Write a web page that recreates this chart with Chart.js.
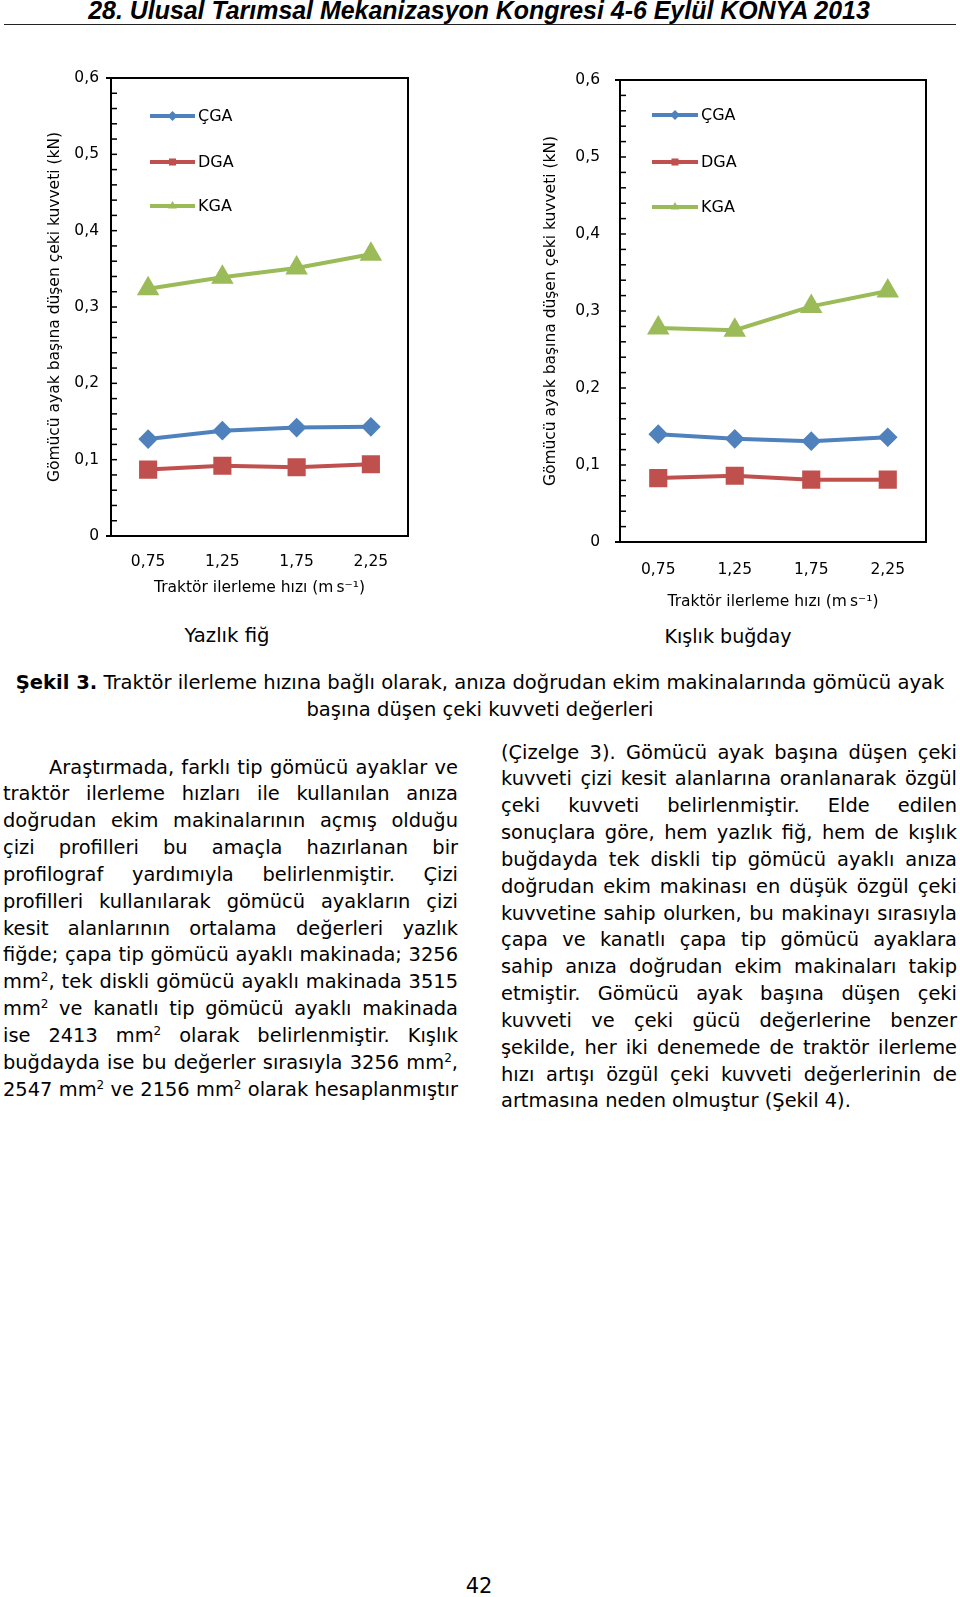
<!DOCTYPE html>
<html lang="tr">
<head>
<meta charset="utf-8">
<script src="https://cdn.jsdelivr.net/npm/chart.js@4.4.1/dist/chart.umd.min.js"></script>
<style>
  body { margin: 0; width: 960px; height: 1597px; position: relative; background: #fff; color: #000;
         font-family: "DejaVu Sans", sans-serif; overflow: hidden; }
  .abs { position: absolute; white-space: nowrap; line-height: 1.2; display: inline-block; }
  #header { font-family: "Liberation Sans Narrow", "Liberation Sans", sans-serif; font-weight: bold; font-style: italic; font-size: 24px; }
  #rule { position: absolute; left: 4px; top: 24px; width: 952px; border-top: 1.5px solid #222; }
  canvas { position: absolute; }
  .col { position: absolute; line-height: 26.85px; }
  .col div { white-space: nowrap; }
  sup { font-size: 0.62em; line-height: 0; vertical-align: 0.55em; }
</style>
</head>
<body>

<div id="header" class="abs">28. Ulusal Tarımsal Mekanizasyon Kongresi 4-6 Eylül KONYA 2013</div>
<div id="rule"></div>

<canvas id="yazlik" width="400" height="540" style="left:30px;top:60px;width:400px;height:540px"></canvas>
<canvas id="kislik" width="430" height="560" style="left:520px;top:60px;width:430px;height:560px"></canvas>

<div id="t1" class="abs">Yazlık fiğ</div>
<div id="t2" class="abs">Kışlık buğday</div>

<div id="cap1" class="abs"><b>Şekil 3.</b> Traktör ilerleme hızına bağlı olarak, anıza doğrudan ekim makinalarında gömücü ayak</div>
<div id="cap2" class="abs">başına düşen çeki kuvveti değerleri</div>

<div id="colL" class="col" style="left:3px;top:754.5px;width:455px">
  <div class="ind">Araştırmada, farklı tip gömücü ayaklar ve</div>
  <div>traktör ilerleme hızları ile kullanılan anıza</div>
  <div>doğrudan ekim makinalarının açmış olduğu</div>
  <div>çizi profilleri bu amaçla hazırlanan bir</div>
  <div>profilograf yardımıyla belirlenmiştir. Çizi</div>
  <div>profilleri kullanılarak gömücü ayakların çizi</div>
  <div>kesit alanlarının ortalama değerleri yazlık</div>
  <div>fiğde; çapa tip gömücü ayaklı makinada; 3256</div>
  <div>mm<sup>2</sup>, tek diskli gömücü ayaklı makinada 3515</div>
  <div>mm<sup>2</sup> ve kanatlı tip gömücü ayaklı makinada</div>
  <div>ise 2413 mm<sup>2</sup> olarak belirlenmiştir. Kışlık</div>
  <div>buğdayda ise bu değerler sırasıyla 3256 mm<sup>2</sup>,</div>
  <div>2547 mm<sup>2</sup> ve 2156 mm<sup>2</sup> olarak hesaplanmıştır</div>
</div>

<div id="colR" class="col" style="left:501px;top:739.5px;width:456px">
  <div>(Çizelge 3). Gömücü ayak başına düşen çeki</div>
  <div>kuvveti çizi kesit alanlarına oranlanarak özgül</div>
  <div>çeki kuvveti belirlenmiştir. Elde edilen</div>
  <div>sonuçlara göre, hem yazlık fiğ, hem de kışlık</div>
  <div>buğdayda tek diskli tip gömücü ayaklı anıza</div>
  <div>doğrudan ekim makinası en düşük özgül çeki</div>
  <div>kuvvetine sahip olurken, bu makinayı sırasıyla</div>
  <div>çapa ve kanatlı çapa tip gömücü ayaklara</div>
  <div>sahip anıza doğrudan ekim makinaları takip</div>
  <div>etmiştir. Gömücü ayak başına düşen çeki</div>
  <div>kuvveti ve çeki gücü değerlerine benzer</div>
  <div>şekilde, her iki denemede de traktör ilerleme</div>
  <div>hızı artışı özgül çeki kuvveti değerlerinin de</div>
  <div class="last">artmasına neden olmuştur (Şekil 4).</div>
</div>

<div id="pageno" class="abs" style="font-size:21px">42</div>

<script>
// traktör ilerleme hızı (m/s)
const speeds = ['0,75', '1,25', '1,75', '2,25'];
const names = ['ÇGA', 'DGA', 'KGA'];
const colors = ['#4F81BD', '#C0504D', '#9BBB59'];
const markers = ['rectRot', 'rect', 'triangle'];
const markerSize = [7, 10, 9];

// Yazlık fiğ (kN)
const vetchCGA = [0.127, 0.138, 0.142, 0.143];
const vetchDGA = [0.087, 0.092, 0.090, 0.094];
const vetchKGA = [0.324, 0.339, 0.351, 0.369];

// Kışlık buğday (kN)
const wheatCGA = [0.140, 0.134, 0.131, 0.136];
const wheatDGA = [0.083, 0.086, 0.081, 0.081];
const wheatKGA = [0.278, 0.275, 0.306, 0.326];

const yTitle = 'Gömücü ayak başına düşen çeki kuvveti (kN)';
const xTitle = 'Traktör ilerleme hızı (m\u2009s⁻¹)';
const chartFont = { family: 'DejaVu Sans', size: 15.5 };

// metin yerleşimi
function place(el, cx, cy, w) {
  if (w) {
    let fs = parseFloat(getComputedStyle(el).fontSize);
    el.style.fontSize = (fs * w / el.getBoundingClientRect().width) + 'px';
  }
  let r = el.getBoundingClientRect();
  el.style.left = (cx - r.width / 2) + 'px';
  el.style.top = (cy - r.height / 2) + 'px';
}

place(document.getElementById('header'), 479, 11, 782);
place(document.getElementById('t1'), 227, 636, 85);
place(document.getElementById('t2'), 728, 637, 127);

let cap1 = document.getElementById('cap1');
place(cap1, 480, 683, 929);
let cap2 = document.getElementById('cap2');
cap2.style.fontSize = cap1.style.fontSize;
place(cap2, 480, 710);
place(document.getElementById('pageno'), 479, 1587);

// iki yana yaslı satırlar
let last = document.querySelector('#colR .last');
let probe = document.createElement('span');
probe.style.whiteSpace = 'nowrap';
probe.style.fontSize = '20px';
probe.innerHTML = last.innerHTML;
document.body.appendChild(probe);
let bodySize = 20 * 350 / probe.getBoundingClientRect().width;
probe.remove();

['colL', 'colR'].forEach(function (id) {
  let col = document.getElementById(id);
  let colW = parseFloat(col.style.width);
  col.style.fontSize = bodySize + 'px';
  col.querySelectorAll('div').forEach(function (line) {
    if (line.classList.contains('last')) return;
    let indent = line.classList.contains('ind') ? 46 : 0;
    line.style.paddingLeft = indent + 'px';
    let s = document.createElement('span');
    s.innerHTML = line.innerHTML;
    line.innerHTML = '';
    line.appendChild(s);
    let natural = s.getBoundingClientRect().width;
    let spaces = s.textContent.split(' ').length - 1;
    if (spaces > 0) s.style.wordSpacing = ((colW - indent - natural) / spaces) + 'px';
  });
});

// işaretçi çizimi
function drawMarker(ctx, style, x, y, r) {
  ctx.beginPath();
  if (style === 'rectRot') {
    ctx.moveTo(x, y - r); ctx.lineTo(x + r, y); ctx.lineTo(x, y + r); ctx.lineTo(x - r, y);
  } else if (style === 'rect') {
    let s = r * Math.SQRT1_2;
    ctx.rect(x - s, y - s, 2 * s, 2 * s);
  } else {
    ctx.moveTo(x, y - r); ctx.lineTo(x + r * 0.866, y + r / 2); ctx.lineTo(x - r * 0.866, y + r / 2);
  }
  ctx.closePath();
  ctx.fill();
}

// çerçeve ve iç tikler
const frame = {
  id: 'frame',
  beforeDatasetsDraw(chart) {
    const { ctx, chartArea: a } = chart;
    const y = chart.scales.y;
    ctx.save();
    ctx.strokeStyle = '#000';
    ctx.lineWidth = 1.5;
    y.ticks.forEach(function (t) {
      if (t.value <= 0.0001 || t.value >= 0.5999) return;
      let py = y.getPixelForValue(t.value);
      ctx.beginPath(); ctx.moveTo(a.left, py); ctx.lineTo(a.left + 6, py); ctx.stroke();
    });
    ctx.lineWidth = 2;
    ctx.strokeRect(a.left, a.top, a.right - a.left, a.bottom - a.top);
    ctx.beginPath();
    ctx.moveTo(a.left - 5, a.top); ctx.lineTo(a.left, a.top);
    ctx.moveTo(a.left - 5, a.bottom); ctx.lineTo(a.left, a.bottom);
    ctx.stroke();
    ctx.restore();
  }
};

// grafik içindeki açıklama
const innerLegend = {
  id: 'innerLegend',
  afterDraw(chart, args, opts) {
    const { ctx, chartArea: a } = chart;
    ctx.save();
    chart.data.datasets.forEach(function (ds, i) {
      let y = a.top + opts.ys[i];
      let x0 = a.left + opts.x0, x1 = a.left + opts.x1;
      ctx.strokeStyle = ds.borderColor;
      ctx.fillStyle = ds.borderColor;
      ctx.lineWidth = 4;
      ctx.beginPath(); ctx.moveTo(x0, y); ctx.lineTo(x1, y); ctx.stroke();
      drawMarker(ctx, ds.pointStyle, (x0 + x1) / 2, y, 5);
      ctx.fillStyle = '#000';
      ctx.font = '16px "DejaVu Sans"';
      ctx.textBaseline = 'middle';
      ctx.fillText(ds.label, x1 + 3, y + 1);
    });
    ctx.restore();
  }
};

function fmt(v) {
  let t = Math.round(v * 50);
  if (t % 5 !== 0) return '';
  return t === 0 ? '0' : (t / 50).toFixed(1).replace('.', ',');
}

function makeChart(id, values, g) {
  return new Chart(document.getElementById(id), {
    type: 'line',
    data: {
      labels: speeds,
      datasets: values.map(function (v, i) {
        return {
          label: names[i],
          data: v,
          borderColor: colors[i],
          backgroundColor: colors[i],
          borderWidth: 4,
          pointStyle: markers[i],
          pointRadius: markerSize[i],
          pointHoverRadius: markerSize[i],
          pointBackgroundColor: colors[i],
          pointBorderColor: colors[i],
          tension: 0
        };
      })
    },
    options: {
      responsive: false,
      animation: false,
      layout: { padding: { left: 0, top: g.top, right: g.right, bottom: 0 } },
      plugins: {
        legend: { display: false },
        tooltip: { enabled: false },
        innerLegend: g.legend
      },
      scales: {
        x: {
          offset: true,
          grid: { display: false, drawTicks: false },
          border: { display: false },
          ticks: { color: '#000', font: chartFont, padding: g.xPad },
          title: { display: true, text: xTitle, color: '#000', font: chartFont, padding: { top: 0, bottom: g.xTitlePad } },
          afterFit: function (s) { s.height = g.xHeight; }
        },
        y: {
          min: 0,
          max: 0.6,
          // tickLength ile etiket boşluğu; ticks.padding üst boşluğu büyütüyor
          grid: { display: false, drawTicks: true, tickLength: g.yPad },
          border: { display: false },
          ticks: { stepSize: 0.02, autoSkip: false, color: '#000', font: chartFont, padding: 0, callback: fmt },
          title: { display: true, text: yTitle, color: '#000', font: chartFont, padding: { top: g.yTitlePad, bottom: 0 } },
          afterFit: function (s) { s.width = g.yWidth; }
        }
      }
    },
    plugins: [frame, innerLegend]
  });
}

makeChart('yazlik', [vetchCGA, vetchDGA, vetchKGA], {
  top: 18, right: 22, yWidth: 81, xHeight: 64,
  xPad: 17, xTitlePad: 2.7, yPad: 12, yTitlePad: 15.7,
  legend: { x0: 39, x1: 84, ys: [38, 84, 128] }
});

makeChart('kislik', [wheatCGA, wheatDGA, wheatKGA], {
  top: 20, right: 24, yWidth: 100, xHeight: 78,
  xPad: 19, xTitlePad: 8.7, yPad: 20, yTitlePad: 21.7,
  legend: { x0: 32, x1: 78, ys: [35, 82, 127] }
});
</script>
</body>
</html>
